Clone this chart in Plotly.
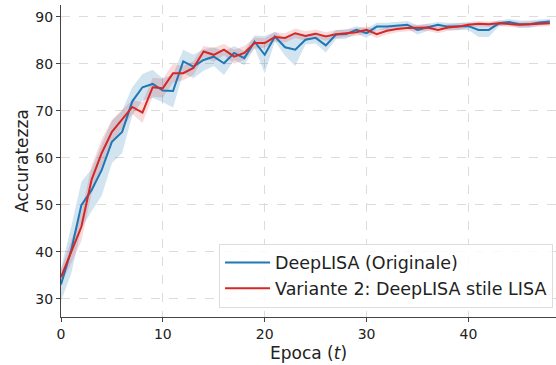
import plotly.graph_objects as go

epochs = list(range(49))

blue_mean = [33.0, 40.3, 49.9, 53.1, 57.4, 63.4, 65.5, 72.0, 75.0, 75.7,
             74.3, 74.2, 80.5, 79.4, 80.8, 81.5, 80.1, 82.3, 81.2, 84.7,
             81.9, 85.8, 83.5, 83.0, 85.1, 85.5, 83.9, 86.2, 86.3, 87.2,
             86.5, 87.9, 87.9, 88.1, 88.3, 87.2, 87.7, 88.3, 87.9, 87.9,
             88.0, 87.2, 87.2, 88.6, 88.9, 88.4, 88.4, 88.8, 89.0]
blue_std = [3.5, 5.0, 5.0, 4.5, 5.5, 4.5, 4.5, 3.0, 2.8, 3.0,
            2.5, 3.5, 2.5, 2.5, 2.3, 2.0, 2.5, 1.5, 1.5, 1.3,
            4.0, 1.0, 1.8, 3.5, 1.0, 1.2, 1.5, 1.0, 1.0, 0.8,
            1.0, 0.8, 0.8, 0.8, 0.8, 1.0, 0.8, 0.6, 0.8, 0.8,
            0.8, 1.5, 1.5, 0.6, 0.6, 0.8, 0.8, 0.6, 0.6]

red_mean = [34.6, 40.0, 45.3, 55.3, 61.0, 65.5, 68.2, 70.8, 69.6, 75.0,
            74.8, 78.0, 78.0, 79.1, 82.6, 81.9, 83.0, 81.5, 82.3, 84.4,
            84.4, 85.7, 85.5, 86.5, 85.9, 86.4, 85.8, 86.3, 86.5, 86.7,
            87.2, 86.3, 87.0, 87.4, 87.6, 87.6, 87.7, 87.2, 87.7, 87.9,
            88.3, 88.5, 88.4, 88.6, 88.4, 88.3, 88.4, 88.5, 88.6]
red_std = [1.5, 2.5, 3.0, 3.0, 3.0, 2.5, 2.0, 1.5, 2.2, 2.0,
           2.0, 2.0, 1.5, 1.5, 1.2, 1.5, 1.2, 1.5, 1.5, 1.2,
           1.0, 1.0, 1.0, 1.0, 1.0, 0.9, 0.9, 0.9, 0.8, 0.8,
           0.8, 0.8, 0.8, 0.7, 0.7, 0.7, 0.7, 0.7, 0.7, 0.7,
           0.6, 0.6, 0.6, 0.6, 0.6, 0.6, 0.6, 0.6, 0.6]

series = [
    ("DeepLISA (Originale)", blue_mean, blue_std, "#1f77b4", "rgba(31,119,180,0.2)"),
    ("Variante 2: DeepLISA stile LISA", red_mean, red_std, "#d62728", "rgba(214,39,40,0.17)"),
]

fig = go.Figure()
for name, m, s, col, fcol in series:
    lo = [a - b for a, b in zip(m, s)]
    hi = [a + b for a, b in zip(m, s)]
    fig.add_trace(go.Scatter(x=epochs, y=lo, mode="lines", line=dict(width=0),
                             showlegend=False, hoverinfo="skip"))
    fig.add_trace(go.Scatter(x=epochs, y=hi, mode="lines", line=dict(width=0),
                             fill="tonexty", fillcolor=fcol,
                             showlegend=False, hoverinfo="skip"))
for name, m, s, col, fcol in series:
    fig.add_trace(go.Scatter(x=epochs, y=m, mode="lines", name=name,
                             line=dict(color=col, width=2)))

font_family = "DejaVu Sans"
fig.update_layout(
    width=556, height=365,
    margin=dict(l=61, r=0, t=5, b=48),
    paper_bgcolor="white", plot_bgcolor="white",
    font=dict(family=font_family, size=14, color="#222"),
    legend=dict(x=0.994, y=0.03, xanchor="right", yanchor="bottom",
                traceorder="normal", itemwidth=45,
                bgcolor="rgba(255,255,255,0.85)", bordercolor="#dddddd",
                borderwidth=1, font=dict(size=17.5, color="#222"),
                tracegroupgap=2),
    showlegend=True,
)
fig.update_xaxes(
    range=[0, 48.6], tickvals=[0, 10, 20, 30, 40], ticktext=["0", "10", "20", "30", "40"],
    showline=True, linecolor="#444", linewidth=1.2, ticks="outside", ticklen=4,
    tickcolor="#444", showgrid=True, gridcolor="#dcdcdc", griddash="dash", gridwidth=1,
    zeroline=False, mirror=False,
    title=dict(text="Epoca (<i>t</i>)", font=dict(size=17), standoff=6),
)
fig.update_yaxes(
    range=[26.1, 92.5], tickvals=[30, 40, 50, 60, 70, 80, 90],
    showline=True, linecolor="#444", linewidth=1.2, ticks="outside", ticklen=4,
    tickcolor="#444", showgrid=True, gridcolor="#dcdcdc", griddash="dash", gridwidth=1,
    zeroline=False, mirror=False,
    title=dict(text="Accuratezza", font=dict(size=17), standoff=2),
)

fig.write_html("out.html")
